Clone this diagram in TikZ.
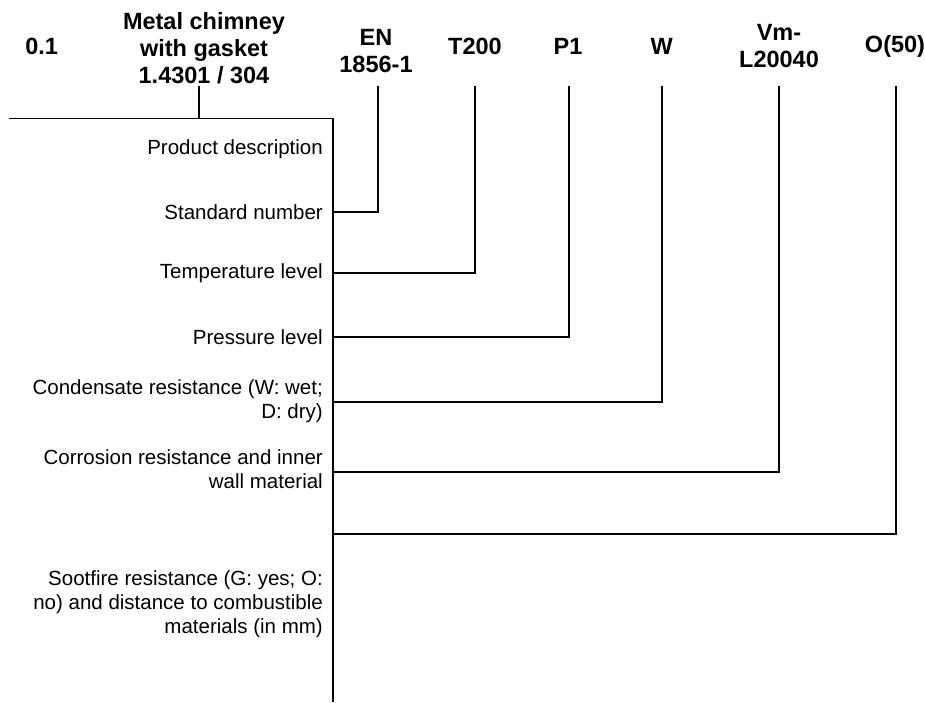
\documentclass[tikz,border=0pt]{standalone}
\usepackage{fontspec}
\setmainfont{Liberation Sans}
\usetikzlibrary{calc}
\tikzstyle{hdr}=[font=\fontsize{23.5}{27}\selectfont\bfseries, align=center, inner sep=0pt]
\tikzstyle{lbl}=[font=\fontsize{20.5}{24}\selectfont, align=right, anchor=east, inner sep=0pt]
\tikzstyle{ln}=[line width=1.8pt]

\begin{document}
\begin{tikzpicture}[x=1pt,y=-1pt]
      \useasboundingbox (0,0) rectangle (925,702);
      % header codes
      \node [hdr] (a) at (41.7,46) {0.1};
      \node [hdr] (b) at (204,48) {Metal chimney\\with gasket\\1.4301 / 304};
      \node [hdr] (c) at (376,51.5) {EN\\1856-1};
      \node [hdr] (d) at (475,46) {T200};
      \node [hdr] (e) at (568,46) {P1};
      \node [hdr] (f) at (661.7,46) {W};
      \node [hdr] (g) at (779,46.5) {Vm-\\L20040};
      \node [hdr] (h) at (895,46) {O(50)};
      % line tops
      \coordinate (bt) at (199,86);
      \coordinate (ct) at (377.7,86);
      \coordinate (dt) at (475,86);
      \coordinate (et) at (569,86);
      \coordinate (ft) at (661.7,86);
      \coordinate (gt) at (779,86);
      \coordinate (ht) at (896,86);
      % spine
      \coordinate (start) at (9,118.5);
      \coordinate (bend) at (332.7,118.5);
      \coordinate (end) at (332.7,702);
      % descriptions
      \node [lbl] (l1) at (323,149) {Product description};
      \node [lbl] (l2) at (323,211.7) {Standard number};
      \node [lbl] (l3) at (323,273) {Temperature level};
      \node [lbl] (l4) at (323,336.7) {Pressure level};
      \node [lbl] (l5) at (323,401.5) {Condensate resistance (W: wet;\\D: dry)};
      \node [lbl] (l6) at (323,469.5) {Corrosion resistance and inner\\wall material};
      \node [lbl] (l7) at (323,604) {Sootfire resistance (G: yes; O:\\no) and distance to combustible\\materials (in mm)};
      \coordinate (o) at (332.7,534.3);
      \draw [ln] (start) -- (bend) -- (end);
      \draw [ln] (bt) -- (bt |- bend);
      \draw [ln] (ct) |- (bend |- l2);
      \draw [ln] (dt) |- (bend |- l3);
      \draw [ln] (et) |- (bend |- l4);
      \draw [ln] (ft) |- (bend |- 0,402);
      \draw [ln] (gt) |- (bend |- 0,471.7);
      \draw [ln] (ht) |- (o);
  \end{tikzpicture}
\end{document}
